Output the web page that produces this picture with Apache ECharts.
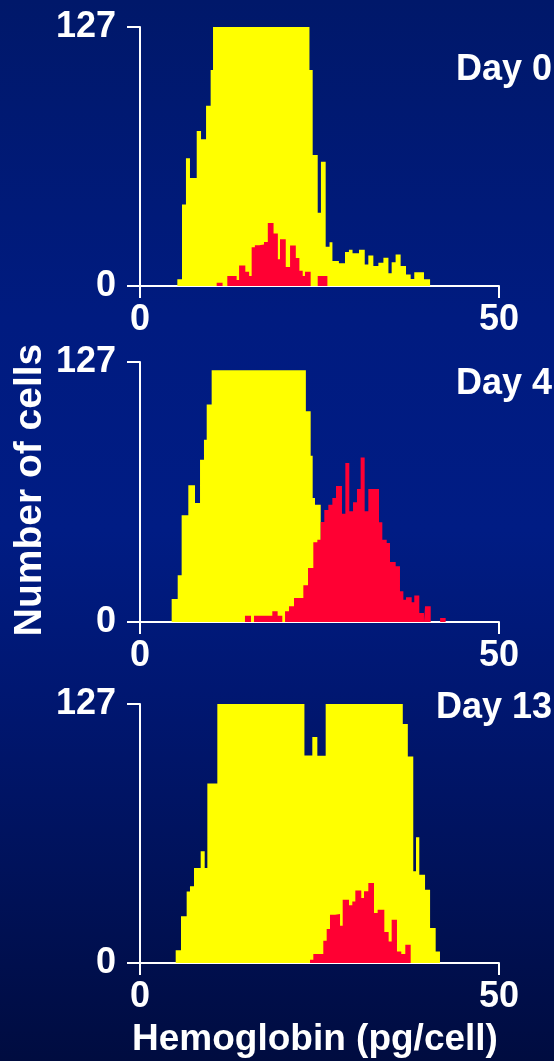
<!DOCTYPE html>
<html>
<head>
<meta charset="utf-8">
<script src="https://cdn.jsdelivr.net/npm/echarts@6/dist/echarts.min.js"></script>
<style>
  html, body { margin: 0; padding: 0; background: #001670; }
  #chart { width: 554px; height: 1061px; }
</style>
</head>
<body>
<div id="chart"></div>
<script>
// Hemoglobin-per-cell histograms: total population (yellow) and gated subset (red).
// Each histogram is stored as bin edges (pg/cell) and cell counts per bin.
const xTicks = [0, 50];
const yTicks = [0, 127];
const dayLabels = ['Day 0', 'Day 4', 'Day 13'];

const day0YellowEdges = [5.2, 5.85, 6.4, 6.96, 7.9, 8.5, 9.2, 9.84, 10.17, 23.6, 24.05, 24.75, 25.2, 25.86, 26.4, 26.8, 27.7, 28.55, 29.1, 29.6, 30.5, 31.3, 31.8, 32.5, 33.2, 33.9, 34.6, 35.05, 35.6, 36.3, 37.05, 37.7, 38.2, 39.55, 40.4];
const day0YellowCounts = [3.3, 40, 62.6, 53, 76, 72, 88.4, 105.9, 127, 105.9, 64.2, 35.9, 60.9, 19.3, 21.4, 12.3, 11.1, 16.7, 17.8, 16, 17.8, 10.6, 15, 9.8, 11.4, 13.9, 6.2, 11.6, 15.5, 9.8, 5.7, 3.4, 6.7, 3.3];

const day0RedEdges = [10.68, 11.5, 12.16, 13.46, 13.8, 14.67, 15.2, 15.55, 16.0, 16.6, 17.27, 17.8, 18.6, 19.2, 19.5, 20.3, 20.9, 21.7, 22.2, 22.66, 22.98, 23.77, 24.75, 26.1];
const day0RedCounts = [1.6, 0, 4.9, 2.9, 10, 7, 4.9, 19, 20, 20.4, 21.6, 30.9, 25.8, 13.1, 22.9, 9.3, 19.8, 13.7, 7.5, 4.9, 7.0, 0, 4.9];

const day4YellowEdges = [4.41, 5.25, 5.8, 6.73, 7.66, 8.36, 8.91, 9.29, 9.98, 23.1, 23.77, 24.05, 24.37, 25.17, 26.0, 27.0, 28.2];
const day4YellowCounts = [11.2, 22.8, 52.1, 66.8, 58.1, 79.3, 89, 106.2, 123, 102.9, 81.2, 60.6, 57.3, 38, 22, 9];

const day4RedEdges = [14.62, 15.46, 15.88, 18.43, 19.17, 19.82, 20.2, 20.75, 21.45, 22.75, 23.4, 24.14, 24.7, 25.17, 25.67, 26.23, 26.79, 27.3, 28.13, 28.6, 29.15, 29.67, 30.22, 30.73, 31.29, 31.8, 33.29, 33.75, 34.36, 34.82, 35.61, 36.21, 36.68, 37.05, 37.84, 38.2, 38.9, 39.55, 39.7, 40.49, 41.8, 42.57];
const day4RedCounts = [3.1, 0, 3.1, 5.2, 3.1, 0, 5.2, 7.7, 11.7, 17.9, 26.4, 38.9, 40.2, 48.9, 54.7, 57.3, 60.6, 66.4, 52.9, 77.7, 54.1, 58.5, 65, 80.3, 54.1, 65, 48.7, 40.2, 38.6, 29.3, 27.2, 15, 10.9, 12.1, 9.6, 13, 4.4, 0, 7.7, 0, 2];

const day13YellowEdges = [4.97, 5.71, 6.5, 6.96, 7.52, 8.45, 9.01, 9.38, 10.77, 22.9, 24.0, 24.7, 25.86, 36.6, 37.3, 38.06, 38.44, 38.9, 39.7, 40.4, 41.18, 41.78];
const day13YellowCounts = [6.2, 22.9, 35.1, 37.6, 46.6, 54.8, 46.6, 88, 127, 101.8, 110.8, 101.6, 127, 117.2, 101.3, 45, 61.6, 43.3, 35.9, 17.2, 5.7];

const day13RedEdges = [23.68, 24.14, 25.53, 26.0, 26.46, 27.16, 27.86, 28.23, 29.11, 29.57, 29.99, 30.82, 31.2, 31.8, 32.59, 33.1, 34.03, 34.63, 35.05, 35.79, 36.39, 36.95, 37.7];
const day13RedCounts = [1.6, 4.4, 10.9, 16.7, 23.7, 24, 18.3, 31, 28.3, 30.2, 35.5, 31.9, 35.2, 39.2, 24.5, 26.1, 15.2, 10.6, 21.2, 5.7, 4.4, 9];

const panels = [
  { label: dayLabels[0], top: 27,  height: 259, yellow: [day0YellowEdges, day0YellowCounts],  red: [day0RedEdges, day0RedCounts],  labelY: 70 },
  { label: dayLabels[1], top: 362, height: 260, yellow: [day4YellowEdges, day4YellowCounts],  red: [day4RedEdges, day4RedCounts],  labelY: 384 },
  { label: dayLabels[2], top: 704, height: 259, yellow: [day13YellowEdges, day13YellowCounts], red: [day13RedEdges, day13RedCounts], labelY: 708 }
];

const FONT = '"Liberation Sans", Arial, Helvetica, sans-serif';
const YELLOW = '#ffff00';
const RED = '#ff0033';

// Turn edges + counts into step-line points: value holds from one edge to the next.
function stepPoints(edges, counts) {
  const pts = counts.map((c, i) => [edges[i], c]);
  pts.push([edges[edges.length - 1], 0]);
  return pts;
}

function histSeries(idx, pair, color, z) {
  return {
    type: 'line',
    xAxisIndex: idx,
    yAxisIndex: idx,
    step: 'end',
    symbol: 'none',
    data: stepPoints(pair[0], pair[1]),
    lineStyle: { width: 0 },
    areaStyle: { color: color, opacity: 1 },
    itemStyle: { color: color },
    silent: true,
    z: z
  };
}

const axisLineStyle = { color: '#ffffff', width: 2 };

const option = {
  animation: false,
  backgroundColor: {
    type: 'linear', x: 0, y: 0, x2: 0, y2: 1,
    colorStops: [
      { offset: 0,    color: '#00186a' },
      { offset: 0.3,  color: '#001b80' },
      { offset: 0.5,  color: '#001c84' },
      { offset: 0.68, color: '#00166e' },
      { offset: 0.85, color: '#001156' },
      { offset: 1,    color: '#000c40' }
    ]
  },
  grid: panels.map(p => ({ left: 140, right: 55, top: p.top, height: p.height })),
  xAxis: panels.map((p, i) => ({
    type: 'value',
    gridIndex: i,
    min: xTicks[0],
    max: xTicks[1],
    interval: xTicks[1] - xTicks[0],
    axisLine: { show: true, lineStyle: axisLineStyle, onZero: false },
    axisTick: { show: true, length: 12, lineStyle: axisLineStyle },
    splitLine: { show: false },
    axisLabel: { color: '#ffffff', fontSize: 36, fontWeight: 'bold', fontFamily: FONT, margin: 16 }
  })),
  yAxis: panels.map((p, i) => ({
    type: 'value',
    gridIndex: i,
    min: yTicks[0],
    max: yTicks[1],
    interval: yTicks[1] - yTicks[0],
    axisLine: { show: true, lineStyle: axisLineStyle, onZero: false },
    axisTick: { show: true, length: 13, lineStyle: axisLineStyle },
    splitLine: { show: false },
    axisLabel: { color: '#ffffff', fontSize: 36, fontWeight: 'bold', fontFamily: FONT, margin: 24 }
  })),
  series: panels.flatMap((p, i) => [
    histSeries(i, p.yellow, YELLOW, 2),
    histSeries(i, p.red, RED, 3)
  ]),
  graphic: [
    ...panels.map(p => ({
      type: 'text',
      style: {
        text: p.label, x: 552, y: p.labelY,
        textAlign: 'right', textVerticalAlign: 'middle',
        fill: '#ffffff', font: 'bold 36px ' + FONT
      },
      z: 10
    })),
    {
      type: 'text',
      x: 30, y: 490,
      rotation: Math.PI / 2,
      style: {
        text: 'Number of cells', x: 0, y: 0,
        textAlign: 'center', textVerticalAlign: 'middle',
        fill: '#ffffff', font: 'bold 39px ' + FONT
      },
      z: 10
    },
    {
      type: 'text',
      style: {
        text: 'Hemoglobin (pg/cell)', x: 315, y: 1040,
        textAlign: 'center', textVerticalAlign: 'middle',
        fill: '#ffffff', font: 'bold 37px ' + FONT
      },
      z: 10
    }
  ]
};

const chart = echarts.init(document.getElementById('chart'), null, { renderer: 'canvas' });
chart.setOption(option);
</script>
</body>
</html>
